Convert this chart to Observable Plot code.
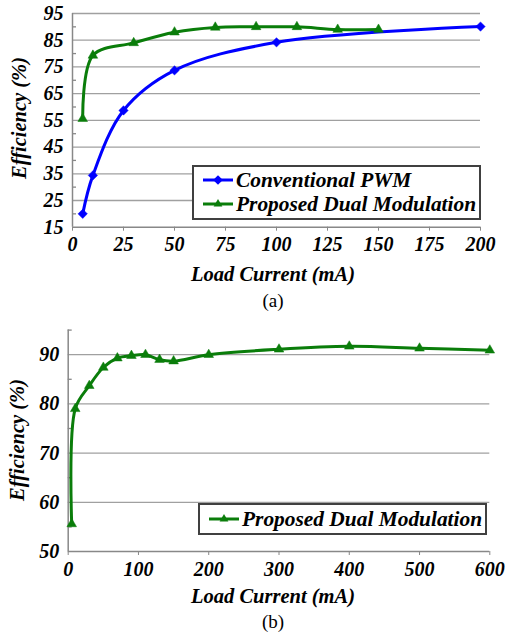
<!DOCTYPE html>
<html>
<head>
<meta charset="utf-8">
<script src="https://cdn.jsdelivr.net/npm/d3@7"></script>
<script src="https://cdn.jsdelivr.net/npm/@observablehq/plot@0.6"></script>
<style>
  html, body { margin: 0; padding: 0; background: #fff; }
  #root { position: relative; width: 505px; height: 639px; overflow: hidden; font-family: 'Liberation Serif', serif; }
  #root div, #root span { font-family: 'Liberation Serif', serif; }
  #root svg text { font-family: 'Liberation Serif', serif !important; font-weight: bold; font-style: italic; fill: #000; }
  .abs { position: absolute; }
  .bi { font-weight: bold; font-style: italic; color: #000; white-space: nowrap; }
  .legend { position: absolute; border: 2px solid #404040; background: #fff; box-sizing: border-box; }
  .lrow { position: absolute; left: 9px; display: flex; align-items: center; font-weight: bold; font-style: italic; font-size: 21.4px; line-height: 24px; white-space: nowrap; }
  .lrow svg { margin-right: 3px; }
</style>
</head>
<body>
<div id="root"></div>
<script>
// ---- Data: chart (a) ----
const convCurrent = [5, 10, 25, 50, 100, 200];
const convEff     = [20, 34.4, 58.7, 73.7, 84.2, 90.1];
const dualCurrentA = [5, 10, 30, 50, 70, 90, 110, 130, 150];
const dualEffA     = [55.6, 79.3, 84, 88, 89.8, 90, 90, 89, 89];
const yTicksA = [15, 25, 35, 45, 55, 65, 75, 85, 95];
const yMinorA = [20, 30, 40, 50, 60, 70, 80, 90];
const xTicksA = [0, 25, 50, 75, 100, 125, 150, 175, 200];

// ---- Data: chart (b) ----
const dualCurrentB = [5, 10, 30, 50, 70, 90, 110, 130, 150, 200, 300, 400, 500, 600];
const dualEffB     = [55.6, 79, 83.7, 87.4, 89.3, 89.8, 90, 89, 88.7, 90, 91.1, 91.7, 91.3, 90.9];
const yTicksB = [50, 60, 70, 80, 90];
const yMinorB = [55, 65, 75, 85, 95];
const xTicksB = [0, 100, 200, 300, 400, 500, 600];

const seriesNames = ["Conventional PWM", "Proposed Dual Modulation"];
const blue = "#0000ff", green = "#0a7d0a";
const gridColor = "#a0a0a0", axisColor = "#888888";

const convData = convCurrent.map((x, i) => ({x, y: convEff[i]}));
const dualA = dualCurrentA.map((x, i) => ({x, y: dualEffA[i]}));
const dualB = dualCurrentB.map((x, i) => ({x, y: dualEffB[i]}));

const root = document.getElementById("root");
const svgStyle = {fontFamily: "'Liberation Serif', serif", fontWeight: "bold", fontStyle: "italic", fontSize: "20px", color: "#000", background: "transparent", overflow: "visible"};

function makeChart({top, height, marginLeft, marginRight, marginTop, marginBottom, xDomain, yDomain, xTicks, yTicks, yMinor, gridTicks, series}) {
  const frameW = 505 - marginLeft - marginRight;
  const marks = [
    Plot.gridY(gridTicks, {stroke: gridColor, strokeOpacity: 1, strokeWidth: 1.3}),
    Plot.tickY(yMinor, {y: d => d, stroke: axisColor, strokeWidth: 1.3, insetRight: frameW - 4}),
    Plot.ruleY([yDomain[0]], {stroke: axisColor, strokeWidth: 1.5}),
    Plot.ruleX([xDomain[0]], {stroke: axisColor, strokeWidth: 1.5}),
    Plot.axisX(xTicks, {tickSize: 4, tickPadding: 6, stroke: axisColor, label: null, fontSize: 20, fontFamily: "Liberation Serif", fontWeight: "bold", fontStyle: "italic"}),
    Plot.axisY(yTicks, {tickSize: 0, tickPadding: 9, label: null, fontSize: 20, fontFamily: "Liberation Serif", fontWeight: "bold", fontStyle: "italic"})
  ];
  for (const s of series) {
    marks.push(Plot.line(s.data, {x: "x", y: "y", stroke: s.color, strokeWidth: 3, curve: "catmull-rom"}));
    marks.push(Plot.dot(s.data, {x: "x", y: "y", symbol: s.symbol, r: s.r, fill: s.color, stroke: s.color, strokeWidth: 0.5}));
  }
  const svg = Plot.plot({
    width: 505, height, marginLeft, marginRight, marginTop, marginBottom,
    style: svgStyle,
    x: {domain: xDomain, nice: false},
    y: {domain: yDomain, nice: false},
    marks
  });
  svg.setAttribute("font-family", "Liberation Serif");
  svg.style.position = "absolute";
  svg.style.left = "0px";
  svg.style.top = top + "px";
  root.appendChild(svg);
}

// Chart (a)
makeChart({
  top: 0, height: 290, marginLeft: 72, marginRight: 25, marginTop: 13, marginBottom: 63.3,
  xDomain: [0, 200], yDomain: [15, 95], xTicks: xTicksA, yTicks: yTicksA, yMinor: yMinorA,
  gridTicks: yTicksA.slice(1),
  series: [
    {data: convData, color: blue, symbol: "diamond2", r: 4.2},
    {data: dualA, color: green, symbol: "triangle2", r: 4.6}
  ]
});

// Chart (b)
makeChart({
  top: 320, height: 290, marginLeft: 67.7, marginRight: 15.7, marginTop: 9.6, marginBottom: 59,
  xDomain: [0, 600], yDomain: [50, 95], xTicks: xTicksB, yTicks: yTicksB, yMinor: yMinorB,
  gridTicks: yTicksB.slice(1),
  series: [
    {data: dualB, color: green, symbol: "triangle2", r: 4.6}
  ]
});

// Text: axis titles and captions
function addText(text, cls, css) {
  const d = document.createElement("div");
  d.className = "abs " + cls;
  d.textContent = text;
  d.style.fontFamily = "'Liberation Serif', serif";
  Object.assign(d.style, css);
  root.appendChild(d);
  return d;
}
const xTitle = "Load Current (mA)";
const yTitle = "Efficiency (%)";
addText(xTitle, "bi", {left: "0px", width: "546px", textAlign: "center", top: "263px", fontSize: "20.5px"});
addText("(a)", "", {left: "0px", width: "546px", textAlign: "center", top: "290px", fontSize: "19px"});
addText(xTitle, "bi", {left: "0px", width: "546px", textAlign: "center", top: "585px", fontSize: "20.5px"});
addText("(b)", "", {left: "0px", width: "546px", textAlign: "center", top: "611px", fontSize: "19px"});

function yLabel(cx, cy) {
  addText(yTitle, "bi", {fontSize: "20.5px", left: cx + "px", top: cy + "px", transform: "translate(-50%, -50%) rotate(-90deg)"});
}
yLabel(19, 118);
yLabel(17, 440);

// Legends
function symbolSvg(color, kind) {
  const sym = kind === "diamond" ? d3.symbol(d3.symbolDiamond2, 60)() : d3.symbol(d3.symbolTriangle2, 55)();
  return `<svg width="30" height="14" viewBox="0 0 30 14"><line x1="0" y1="7" x2="30" y2="7" stroke="${color}" stroke-width="3"/><path d="${sym}" transform="translate(15,7)" fill="${color}"/></svg>`;
}
function legend(box, rows) {
  const lg = document.createElement("div");
  lg.className = "legend";
  Object.assign(lg.style, {left: box.left + "px", top: box.top + "px", width: box.width + "px", height: box.height + "px"});
  rows.forEach(r => {
    const row = document.createElement("div");
    row.className = "lrow";
    row.style.top = r.top + "px";
    row.style.fontFamily = "'Liberation Serif', serif";
    row.innerHTML = symbolSvg(r.color, r.kind);
    const sp = document.createElement("span");
    sp.textContent = r.name;
    sp.style.fontFamily = "'Liberation Serif', serif";
    row.appendChild(sp);
    lg.appendChild(row);
  });
  root.appendChild(lg);
}
legend({left: 192, top: 165, width: 289, height: 55}, [
  {name: seriesNames[0], color: blue, kind: "diamond", top: 1},
  {name: seriesNames[1], color: green, kind: "triangle", top: 25}
]);
legend({left: 198, top: 503, width: 289, height: 32}, [
  {name: seriesNames[1], color: green, kind: "triangle", top: 2}
]);
</script>
</body>
</html>
